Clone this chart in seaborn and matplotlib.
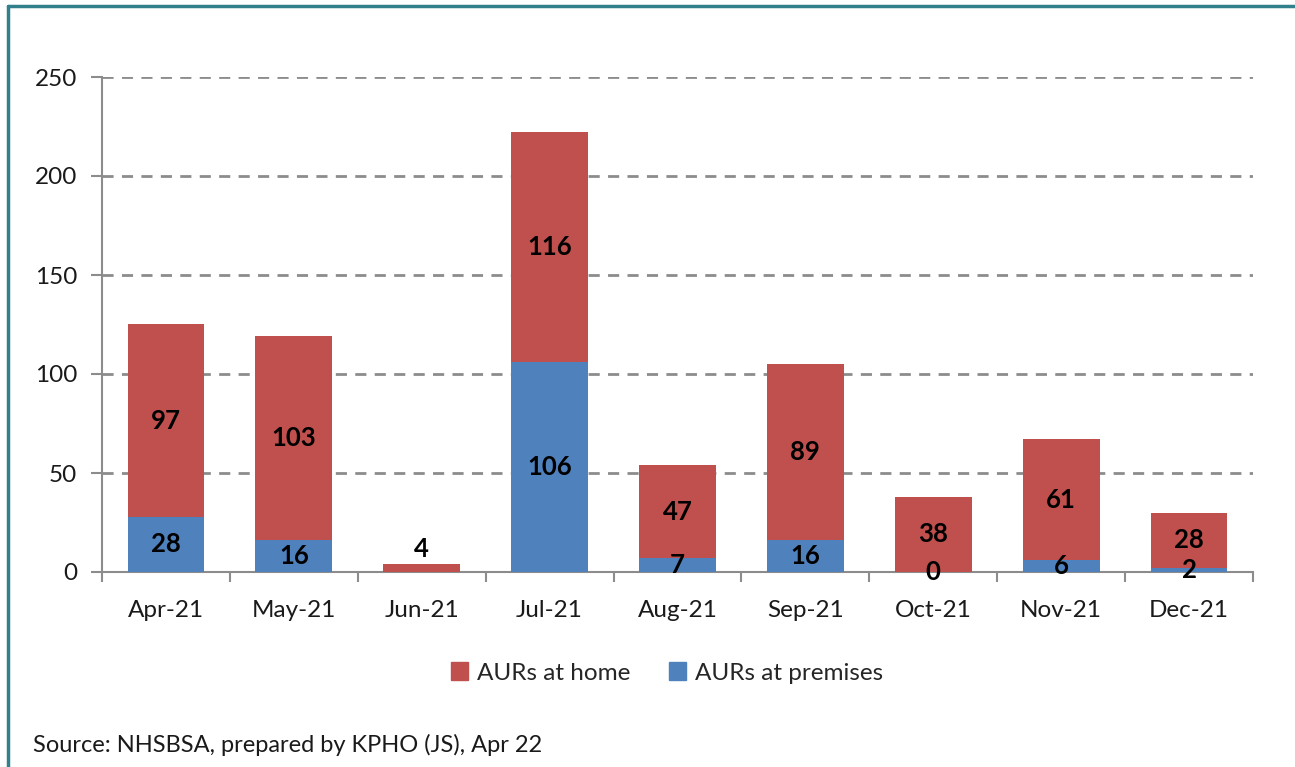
import matplotlib
matplotlib.use("Agg")
import matplotlib.pyplot as plt
import matplotlib.patches as mpatches
import matplotlib.lines as mlines
from matplotlib.ticker import MultipleLocator, FixedLocator
import numpy as np
import pandas as pd
import seaborn as sns

months = ["Apr-21", "May-21", "Jun-21", "Jul-21", "Aug-21", "Sep-21", "Oct-21", "Nov-21", "Dec-21"]
at_premises = [28, 16, None, 106, 7, 16, 0, 6, 2]
at_home = [97, 103, 4, 116, 47, 89, 38, 61, 28]

RED = "#C0504D"
BLUE = "#4F81BD"
GREY = "#8C8C8C"
TEXT = "#1a1a1a"

sns.set_theme(style="white")
plt.rcParams["font.family"] = ["Lato", "DejaVu Sans"]

df = pd.DataFrame({
    "month": months,
    "premises": [v if v is not None else 0 for v in at_premises],
    "home": at_home,
})

fig = plt.figure(figsize=(12.95, 7.67), dpi=100)
ax = fig.add_axes([102 / 1295, 1 - 572 / 767, (1253 - 102) / 1295, (572 - 77) / 767])

sns.barplot(data=df, x="month", y="premises", color=BLUE, width=0.6,
            saturation=1, linewidth=0, ax=ax, zorder=3)
sns.barplot(data=df, x="month", y="home", color=RED, width=0.6,
            saturation=1, linewidth=0, bottom=df["premises"], ax=ax, zorder=3)

# value labels at the centre of each segment
LABEL_SIZE = 18.5
for i, (p, h) in enumerate(zip(at_premises, at_home)):
    base = p if p is not None else 0
    if p is not None:
        ax.text(i, p / 2, str(p), ha="center", va="center", fontsize=LABEL_SIZE,
                fontweight="bold", color="black", zorder=5)
    if h < 8:
        ax.text(i, base + h + 1.5, str(h), ha="center", va="bottom", fontsize=LABEL_SIZE,
                fontweight="bold", color="black", zorder=5)
    else:
        ax.text(i, base + h / 2, str(h), ha="center", va="center", fontsize=LABEL_SIZE,
                fontweight="bold", color="black", zorder=5)

ax.set_xlim(-0.5, len(months) - 0.5)
ax.set_ylim(0, 250)
ax.yaxis.set_major_locator(MultipleLocator(50))
ax.set_xlabel("")
ax.set_ylabel("")

ax.grid(axis="y", color=GREY, linestyle=(0, (4, 3)), linewidth=2, zorder=0)
for s in ["top", "right"]:
    ax.spines[s].set_visible(False)
for s in ["left", "bottom"]:
    ax.spines[s].set_color(GREY)
    ax.spines[s].set_linewidth(1.5)

ax.tick_params(axis="y", which="major", left=True, length=8, width=1.5,
               color=GREY, labelsize=17.5, labelcolor=TEXT, pad=10)
ax.tick_params(axis="x", which="major", bottom=False, labelsize=17.5,
               labelcolor=TEXT, pad=14)
ax.xaxis.set_minor_locator(FixedLocator(np.arange(-0.5, len(months), 1.0)))
ax.tick_params(axis="x", which="minor", bottom=True, length=7, width=1.5, color=GREY)

handles = [mpatches.Patch(color=RED, label="AURs at home"),
           mpatches.Patch(color=BLUE, label="AURs at premises")]
fig.legend(handles=handles, loc="center", bbox_to_anchor=(667 / 1295, 1 - 673 / 767),
           ncol=2, frameon=False, fontsize=17.5, handlelength=0.7, handleheight=0.7,
           handletextpad=0.35, columnspacing=1.6)

fig.text(33 / 1295, 1 - 745 / 767, "Source: NHSBSA, prepared by KPHO (JS), Apr 22",
         fontsize=17, ha="left", va="center", color=TEXT)

# outer frame: top and left edges
frame_color = "#31808C"
fig.add_artist(mlines.Line2D([8 / 1295, 1.0], [1 - 6 / 767, 1 - 6 / 767],
                             transform=fig.transFigure, color=frame_color, linewidth=2.5))
fig.add_artist(mlines.Line2D([8 / 1295, 8 / 1295], [1 - 6 / 767, 0.0],
                             transform=fig.transFigure, color=frame_color, linewidth=2.5))

fig.savefig("out.png", dpi=100)
